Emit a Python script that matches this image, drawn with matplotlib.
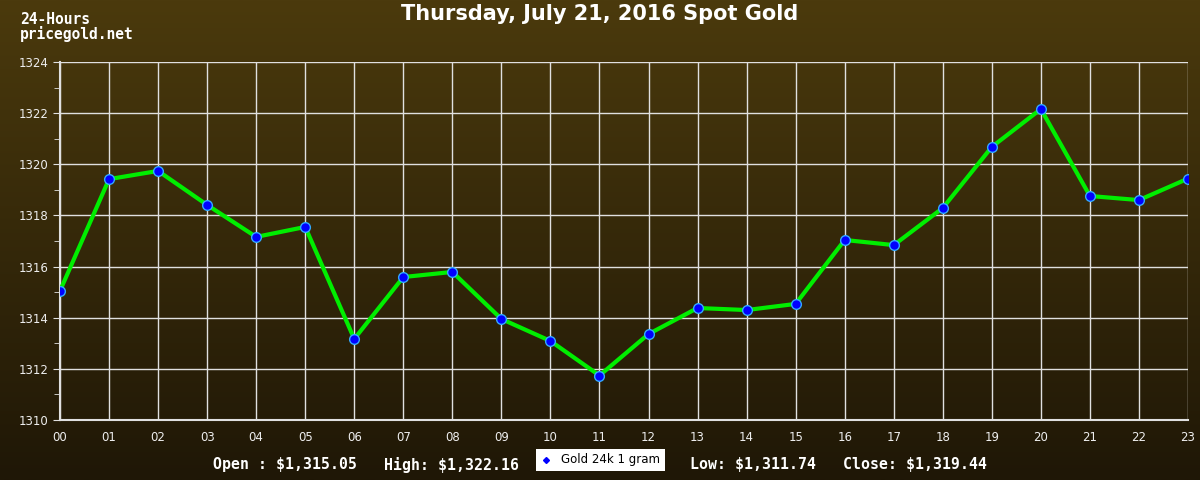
# Spot gold, 24 hours, pricegold.net style chart
import numpy as np
import matplotlib
matplotlib.use("Agg")
import matplotlib.pyplot as plt
from matplotlib.colors import LinearSegmentedColormap

hours = ["00", "01", "02", "03", "04", "05", "06", "07", "08", "09", "10", "11",
         "12", "13", "14", "15", "16", "17", "18", "19", "20", "21", "22", "23"]
prices = [1315.05, 1319.42, 1319.74, 1318.41, 1317.16, 1317.55, 1313.17, 1315.59,
          1315.79, 1313.95, 1313.09, 1311.74, 1313.36, 1314.38, 1314.30, 1314.54,
          1317.04, 1316.84, 1318.29, 1320.68, 1322.16, 1318.76, 1318.60, 1319.44]
y_ticks = [1310, 1312, 1314, 1316, 1318, 1320, 1322, 1324]

title = "Thursday, July 21, 2016 Spot Gold"
series_name = "Gold 24k 1 gram"
stats = [("Open : $1,315.05", 213), ("High: $1,322.16", 384),
         ("Low: $1,311.74", 690), ("Close: $1,319.44", 843)]

W, H = 1200, 480
fig = plt.figure(figsize=(W / 100, H / 100), dpi=100)

# background gradient over the whole figure
bg = fig.add_axes([0, 0, 1, 1])
grad = LinearSegmentedColormap.from_list("bg", ["#4b3a0d", "#1f1706"])
bg.imshow(np.linspace(0, 1, 256).reshape(-1, 1), cmap=grad, aspect="auto",
          extent=[0, 1, 0, 1])
bg.axis("off")

# plot area in pixels: x 60..1188, y 62..420
ax = fig.add_axes([60 / W, 1 - 420 / H, 1128 / W, 358 / H])
ax.patch.set_alpha(0)
x = np.arange(len(hours))
ax.plot(x, prices, color="#00ee00", lw=3, zorder=3)
ax.plot(x, prices, ls="none", marker="o", ms=7, mfc="#0000ff", mec="#33aaff",
        mew=1, zorder=4)

ax.set_xlim(0, 23)
ax.set_ylim(1310, 1324)
ax.set_xticks(x)
ax.set_xticklabels(hours)
ax.set_yticks(y_ticks)
ax.set_yticks(np.arange(1311, 1324, 2), minor=True)
ax.grid(True, color="#e0e0e0", lw=1)
ax.grid(False, which="minor")
for s in ["top", "right"]:
    ax.spines[s].set_visible(False)
for s in ["left", "bottom"]:
    ax.spines[s].set_color("#e0e0e0")
    ax.spines[s].set_linewidth(1.5)
ax.tick_params(colors="#e0e0e0", labelcolor="#eeeeee", labelsize=8.5, length=5)
ax.tick_params(axis="x", length=0, pad=8)
ax.tick_params(axis="y", which="minor", length=4, color="#e0e0e0")
for lab in ax.get_xticklabels() + ax.get_yticklabels():
    lab.set_family("DejaVu Sans")

mono = "DejaVu Sans Mono"
fig.text(600 / W, 1 - 14 / H, title, ha="center", va="center", color="white",
         fontsize=15, fontweight="bold", family="DejaVu Sans")
fig.text(20 / W, 1 - 19 / H, "24-Hours", ha="left", va="center", color="white",
         fontsize=10.5, family=mono, fontweight="bold")
fig.text(20 / W, 1 - 34 / H, "pricegold.net", ha="left", va="center", color="white",
         fontsize=10.5, family=mono, fontweight="bold")
for txt, px in stats:
    fig.text(px / W, 1 - 465 / H, txt, ha="left", va="center", color="white",
             fontsize=10.7, family=mono, fontweight="bold")

# legend box
leg = fig.add_axes([536 / W, 1 - 471 / H, 129 / W, 22 / H])
leg.set_xlim(0, 129)
leg.set_ylim(0, 22)
leg.set_facecolor("white")
for s in leg.spines.values():
    s.set_visible(False)
leg.set_xticks([])
leg.set_yticks([])
leg.plot([10], [11], marker="D", ms=3, color="#0000ff", ls="none")
leg.text(25, 11, series_name, ha="left", va="center", fontsize=8.5, color="black")

fig.savefig("out.png", dpi=100)
